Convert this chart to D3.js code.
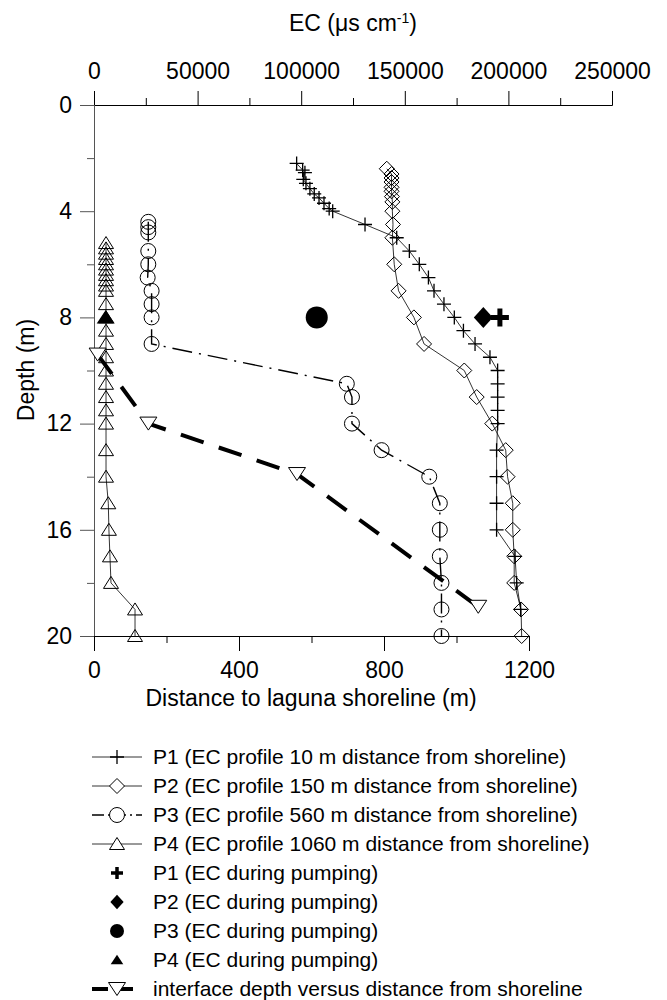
<!DOCTYPE html>
<html>
<head>
<meta charset="utf-8">
<script src="https://cdn.jsdelivr.net/npm/d3@7"></script>
<style>
  body { margin: 0; background: #fff; }
  svg { display: block; font-family: "Liberation Sans", Arial, sans-serif; }
</style>
</head>
<body>
<svg width="667" height="1000"></svg>
<script>
// tick values
const ecTicks = [0, 50000, 100000, 150000, 200000, 250000]
const ecMinorTicks = [25000, 75000, 125000, 175000, 225000]
const depthTicks = [0, 4, 8, 12, 16, 20]
const depthMinorTicks = [2, 6, 10, 14, 18]
const distTicks = [0, 400, 800, 1200]
const distMinorTicks = [200, 600, 1000]

// P1 profile (10 m)
const p1Depth = [2.2, 2.45, 2.55, 2.8, 2.95, 3.15, 3.35, 3.5, 3.7, 3.9, 4.0, 4.5, 5.0, 5.5, 6.0, 6.5, 7.0, 7.5, 8.0, 8.5, 9.0, 9.5, 10, 10.5, 11, 11.5, 12, 13, 14, 15, 16, 17, 18, 19]
const p1EC = [97800, 100700, 101800, 101000, 102300, 104200, 106300, 108600, 111000, 113500, 115200, 130800, 146100, 152200, 157000, 161400, 164100, 168900, 173900, 178300, 183900, 191100, 194800, 194800, 194800, 194800, 194800, 194300, 194300, 194300, 194300, 203200, 204000, 205900]

// P2 profile (150 m)
const p2Depth = [2.4, 2.6, 2.75, 2.9, 3.1, 3.25, 3.45, 3.65, 4.0, 4.5, 5.0, 6.0, 7.0, 8.0, 9.0, 10, 11, 12, 13, 14, 15, 16, 17, 18, 19, 20]
const p2EC = [141300, 143600, 143600, 143600, 143600, 143600, 143800, 144000, 144000, 144300, 144000, 144900, 147000, 154400, 159300, 178700, 184700, 192200, 198700, 199600, 202100, 202100, 202800, 202800, 206100, 206400]

// P3 profile (560 m)
const p3Depth = [4.4, 4.6, 4.8, 5.5, 6.0, 6.5, 7.0, 7.5, 8.0, 9.0, 10.5, 11, 12, 13, 14, 15, 16, 17, 18, 19, 20]
const p3EC = [26200, 26200, 26200, 26200, 26200, 25900, 27800, 27800, 27800, 27800, 122000, 124500, 124500, 138800, 161800, 166900, 166900, 166900, 167700, 167700, 167700]

// P4 profile (1060 m)
const p4Depth = [5.2, 5.4, 5.6, 5.8, 6.0, 6.2, 6.4, 6.6, 6.8, 7.0, 7.5, 8.0, 8.5, 9.0, 9.5, 10, 10.5, 11, 11.5, 12, 13, 14, 15, 16, 17, 18, 19, 20]
const p4EC = [5800, 5800, 5800, 5800, 5800, 5800, 5800, 5800, 5800, 5800, 5800, 5800, 5800, 5800, 5800, 5800, 5800, 5800, 5800, 5800, 5800, 5800, 6900, 7200, 7700, 8200, 19800, 19800]

// EC during pumping (P1..P4), all at 8 m
const pumpEC = [195900, 187900, 107500, 5650]
const pumpDepth = [8, 8, 8, 8]

// interface depth vs distance
const interfaceDist = [10, 150, 560, 1060]
const interfaceDepth = [9.4, 12, 13.9, 18.9]

const legendLabels = [
  "P1 (EC profile 10 m distance from shoreline)",
  "P2 (EC profile 150 m distance from shoreline)",
  "P3 (EC profile 560 m distance from shoreline)",
  "P4 (EC profile 1060 m distance from shoreline)",
  "P1 (EC during pumping)",
  "P2 (EC during pumping)",
  "P3 (EC during pumping)",
  "P4 (EC during pumping)",
  "interface depth versus distance from shoreline"
]

// marker shapes
const shapes = {
  plus: "M-7,0H7M0,-7V7",
  bigPlus: "M-9,0H9M0,-9V9",
  diamond: "M0,-7.5L7.5,0L0,7.5L-7.5,0Z",
  bigDiamond: "M0,-10.5L9.5,0L0,10.5L-9.5,0Z",
  triUp: "M0,-6.5L7.5,5.5L-7.5,5.5Z",
  bigTriUp: "M0,-7.5L9,6L-9,6Z",
  triDown: "M-8.5,-6.5L8.5,-6.5L0,6.5Z"
}

const svg = d3.select("svg")
const fontSize = 23

const ec = d3.scaleLinear().domain([0, 250000]).range([94, 612])
const dist = d3.scaleLinear().domain([0, 1200]).range([94, 529])
const depth = d3.scaleLinear().domain([0, 20]).range([105, 636])

function styleAxis(g, color) {
  g.selectAll("path, line").attr("stroke", color).attr("stroke-width", 1)
  g.selectAll("text").attr("fill", "#000").style("font-size", fontSize + "px")
    .style("font-family", '"Liberation Sans", Arial, sans-serif')
}

// top EC axis
svg.append("g").attr("transform", "translate(0,105)")
  .call(d3.axisTop(ec).tickValues(ecMinorTicks).tickSize(7).tickSizeOuter(0).tickFormat(""))
  .call(g => styleAxis(g, "#000"))
svg.append("g").attr("transform", "translate(0,105)")
  .call(d3.axisTop(ec).tickValues(ecTicks).tickSize(14).tickSizeOuter(0).tickPadding(12).tickFormat(d3.format("d")))
  .call(g => styleAxis(g, "#000"))

// left depth axis
svg.append("g").attr("transform", "translate(94,0)")
  .call(d3.axisLeft(depth).tickValues(depthMinorTicks).tickSize(7).tickSizeOuter(0).tickFormat(""))
  .call(g => styleAxis(g, "#555"))
svg.append("g").attr("transform", "translate(94,0)")
  .call(d3.axisLeft(depth).tickValues(depthTicks).tickSize(14).tickSizeOuter(0).tickPadding(8))
  .call(g => styleAxis(g, "#555"))

// bottom distance axis
svg.append("g").attr("transform", "translate(0,636)")
  .call(d3.axisBottom(dist).tickValues(distMinorTicks).tickSize(7).tickSizeOuter(0).tickFormat(""))
  .call(g => styleAxis(g, "#000"))
svg.append("g").attr("transform", "translate(0,636)")
  .call(d3.axisBottom(dist).tickValues(distTicks).tickSize(15).tickSizeOuter(0).tickPadding(11).tickFormat(d3.format("d")))
  .call(g => styleAxis(g, "#000"))

// axis titles
let ecTitle = svg.append("text").attr("x", 353).attr("y", 31)
  .attr("text-anchor", "middle").style("font-size", fontSize + "px")
ecTitle.append("tspan").text("EC (\u03bcs cm")
ecTitle.append("tspan").attr("dy", -8).style("font-size", "14px").text("-1")
ecTitle.append("tspan").attr("dy", 8).text(")")

svg.append("text").attr("x", 311).attr("y", 706)
  .attr("text-anchor", "middle").style("font-size", fontSize + "px")
  .text("Distance to laguna shoreline (m)")

svg.append("text").attr("transform", "translate(34,370) rotate(-90)")
  .attr("text-anchor", "middle").style("font-size", fontSize + "px")
  .text("Depth (m)")

// profiles
const zip = (xs, ys) => xs.map((d, i) => ({ x: d, y: ys[i] }))

const profiles = [
  { data: zip(p1EC, p1Depth), shape: shapes.plus, dash: null, width: 0.8, sw: 1.3 },
  { data: zip(p2EC, p2Depth), shape: shapes.diamond, dash: null, width: 0.8, sw: 1 },
  { data: zip(p3EC, p3Depth), shape: null, dash: "20,7,2,7", width: 1.4, sw: 1 },
  { data: zip(p4EC, p4Depth), shape: shapes.triUp, dash: null, width: 0.8, sw: 1 }
]

let line = d3.line().x(d => ec(d.x)).y(d => depth(d.y))

profiles.forEach((p, i) => {
  svg.append("path").datum(p.data)
    .attr("fill", "none").attr("stroke", "#000")
    .attr("stroke-width", p.width)
    .attr("stroke-dasharray", p.dash)
    .attr("d", line)
})

profiles.forEach((p, i) => {
  let g = svg.append("g")
  if (i == 2) {
    g.selectAll("circle").data(p.data).join("circle")
      .attr("cx", d => ec(d.x)).attr("cy", d => depth(d.y)).attr("r", 7.5)
      .attr("fill", "none").attr("stroke", "#000").attr("stroke-width", 1)
  } else {
    g.selectAll("path").data(p.data).join("path")
      .attr("transform", d => `translate(${ec(d.x)},${depth(d.y)})`)
      .attr("d", p.shape)
      .attr("fill", "none").attr("stroke", "#000").attr("stroke-width", p.sw)
  }
})

// EC during pumping
const pumpShapes = [shapes.bigPlus, shapes.bigDiamond, null, shapes.bigTriUp]
pumpEC.forEach((v, i) => {
  let x = ec(v), y = depth(pumpDepth[i])
  if (i == 2) {
    svg.append("circle").attr("cx", x).attr("cy", y).attr("r", 11).attr("fill", "#000")
  } else if (i == 0) {
    svg.append("path").attr("transform", `translate(${x},${y})`).attr("d", pumpShapes[i])
      .attr("fill", "none").attr("stroke", "#000").attr("stroke-width", 5)
  } else {
    svg.append("path").attr("transform", `translate(${x},${y})`).attr("d", pumpShapes[i])
      .attr("fill", "#000")
  }
})

// interface line (bottom distance scale)
let iface = zip(interfaceDist, interfaceDepth)
svg.append("path").datum(iface)
  .attr("fill", "none").attr("stroke", "#000").attr("stroke-width", 4)
  .attr("stroke-dasharray", "24,16")
  .attr("d", d3.line().x(d => dist(d.x)).y(d => depth(d.y)))
svg.append("g").selectAll("path").data(iface).join("path")
  .attr("transform", d => `translate(${dist(d.x)},${depth(d.y)})`)
  .attr("d", shapes.triDown)
  .attr("fill", "#fff").attr("stroke", "#000").attr("stroke-width", 1)

// legend
const legY0 = 757, legStep = 29, legX0 = 92, legX1 = 142, legText = 153
let leg = svg.append("g")
legendLabels.forEach((label, i) => {
  let y = legY0 + i * legStep
  let cx = (legX0 + legX1) / 2
  let row = leg.append("g")
  if (i < 4) {
    row.append("line").attr("x1", legX0).attr("x2", legX1).attr("y1", y).attr("y2", y)
      .attr("stroke", "#000").attr("stroke-width", profiles[i].width)
      .attr("stroke-dasharray", i == 2 ? "12,4,2,4" : null)
    if (i == 2) {
      row.append("circle").attr("cx", cx).attr("cy", y).attr("r", 7.5)
        .attr("fill", "#fff").attr("stroke", "#000")
    } else {
      row.append("path").attr("transform", `translate(${cx},${y})`).attr("d", profiles[i].shape)
        .attr("fill", "#fff").attr("stroke", "#000").attr("stroke-width", profiles[i].sw)
    }
  } else if (i < 8) {
    let k = i - 4
    if (k == 2) {
      row.append("circle").attr("cx", cx).attr("cy", y).attr("r", 7).attr("fill", "#000")
    } else if (k == 0) {
      row.append("path").attr("transform", `translate(${cx},${y})`).attr("d", "M-6,0H6M0,-6V6")
        .attr("fill", "none").attr("stroke", "#000").attr("stroke-width", 3.5)
    } else {
      row.append("path").attr("transform", `translate(${cx},${y}) scale(0.7)`).attr("d", pumpShapes[k])
        .attr("fill", "#000")
    }
  } else {
    row.append("line").attr("x1", legX0).attr("x2", legX1).attr("y1", y).attr("y2", y)
      .attr("stroke", "#000").attr("stroke-width", 4).attr("stroke-dasharray", "16,9")
    row.append("path").attr("transform", `translate(${cx},${y})`).attr("d", shapes.triDown)
      .attr("fill", "#fff").attr("stroke", "#000")
  }
  row.append("text").attr("x", legText).attr("y", y + 7)
    .style("font-size", "21px").text(label)
})
</script>
</body>
</html>
